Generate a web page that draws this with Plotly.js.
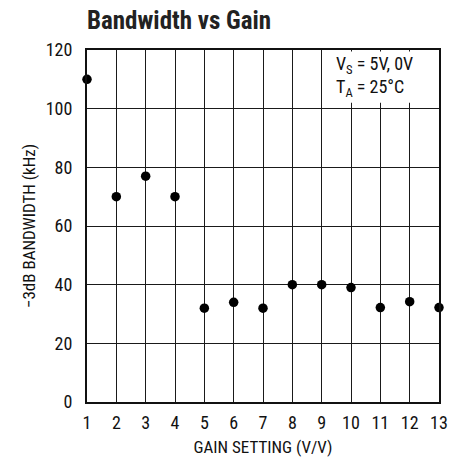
<!DOCTYPE html>
<html><head><meta charset="utf-8">
<script src="https://cdn.plot.ly/plotly-3.0.1.min.js"></script>
<style>html,body{margin:0;padding:0;background:#fff}#c{width:449px;height:460px}</style>
</head><body><div id="c"></div>
<script>
const gainSetting = [1,2,3,4,5,6,7,8,9,10,11,12,13];
const bandwidthKHz = [110,70,77,70,32,34,32,40,40,39,32.2,34.2,32.2];
const xTicks = [1,2,3,4,5,6,7,8,9,10,11,12,13];
const yTicks = [0,20,40,60,80,100,120];
const FONT = '"Liberation Sans Narrow", "Roboto Condensed", "Liberation Sans", Arial, sans-serif';

const trace = {
  x: gainSetting, y: bandwidthKHz, type: 'scatter', mode: 'markers',
  marker: {color: '#000', size: 9.5}, cliponaxis: false, hoverinfo: 'none'
};
const layout = {
  width: 449, height: 460,
  margin: {l: 87, r: 10, t: 50, b: 58},
  paper_bgcolor: '#fff', plot_bgcolor: '#fff',
  showlegend: false,
  font: {family: FONT, color: '#111', size: 16},
  title: {text: '<b>Bandwidth vs Gain</b>', x: 87/449, xanchor: 'left', y: 0.957, yanchor: 'middle',
          font: {family: FONT, size: 25, color: '#222'}},
  xaxis: {range: [1, 13], tickvals: xTicks, ticktext: xTicks.map(String),
          showgrid: true, gridcolor: '#1a1a1a', gridwidth: 1, zeroline: false,
          showline: true, linecolor: '#111', linewidth: 2, mirror: true,
          ticks: '', tickfont: {size: 18, family: FONT}, ticklabelstandoff: 3,
          title: {text: 'GAIN SETTING (V/V)', font: {size: 17, family: FONT}, standoff: 10}},
  yaxis: {range: [0, 120], tickvals: yTicks, ticktext: yTicks.map(String),
          showgrid: true, gridcolor: '#1a1a1a', gridwidth: 1, zeroline: false,
          showline: true, linecolor: '#111', linewidth: 2, mirror: true,
          ticks: '', tickfont: {size: 18, family: FONT}, ticklabelstandoff: 9,
          title: {text: '\u22123dB BANDWIDTH (kHz)', font: {size: 17, family: FONT}, standoff: 6}},
  shapes: [{type: 'rect', xref: 'paper', yref: 'paper', x0: 0.694, x1: 0.996, y0: 0.85, y1: 0.996,
            fillcolor: '#fff', line: {width: 0}, layer: 'above'}],
  annotations: [{xref: 'paper', yref: 'paper', x: 0.703, y: 0.997, xanchor: 'left', yanchor: 'top',
    align: 'left', showarrow: false, font: {size: 18, family: FONT, color: '#111'},
    text: 'V<sub>S</sub> = 5V, 0V<br>T<sub>A</sub> = 25°C'}]
};
Plotly.newPlot('c', [trace], layout, {displayModeBar: false, staticPlot: true});
</script></body></html>
